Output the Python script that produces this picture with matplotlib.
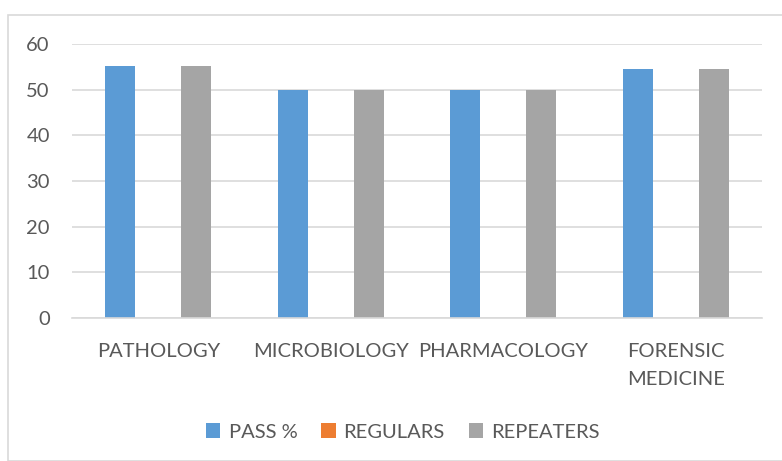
import matplotlib
matplotlib.use("Agg")
import matplotlib.pyplot as plt
import numpy as np
from matplotlib.patches import Rectangle

categories = ["PATHOLOGY", "MICROBIOLOGY", "PHARMACOLOGY", "FORENSIC\nMEDICINE"]
series_names = ["PASS %", "REGULARS", "REPEATERS"]
pass_pct = [55.2, 50, 50, 54.5]
regulars = [0, 0, 0, 0]
repeaters = [55.2, 50, 50, 54.5]
yticks = [0, 10, 20, 30, 40, 50, 60]
colors = ["#5B9BD5", "#ED7D31", "#A5A5A5"]

plt.rcParams['font.family'] = ['Lato', 'DejaVu Sans']
txt = "#595959"

fig = plt.figure(figsize=(7.82, 4.61), dpi=100)
# outer chart border
fig.patches.append(Rectangle((8/782, 0), 1.0, 1 - 15/461, transform=fig.transFigure,
                             fill=False, edgecolor="#D9D9D9", linewidth=1.2))
ax = fig.add_axes([72/782, 1 - 318/461, (762-72)/782, (318-44)/461])

x = np.arange(len(categories))
w = 30/172.5
step = 38/172.5
for i, (vals, c, name) in enumerate(zip([pass_pct, regulars, repeaters], colors, series_names)):
    ax.bar(x + (i-1)*step, vals, width=w, color=c, label=name, zorder=3)

ax.set_xlim(-0.5, len(categories) - 0.5)
ax.set_ylim(0, 60)
ax.set_yticks(yticks)
ax.set_xticks(x)
ax.set_xticklabels(categories, fontsize=14.5, color=txt, linespacing=1.8)
ax.tick_params(axis='y', labelsize=14.5, labelcolor=txt, length=0, pad=16)
ax.tick_params(axis='x', length=0, pad=18)
ax.grid(axis='y', color="#D9D9D9", linewidth=1.2, zorder=0)
for s in ["top", "right", "left"]:
    ax.spines[s].set_visible(False)
ax.spines["bottom"].set_color("#D9D9D9")
ax.spines["bottom"].set_linewidth(1.2)
ax.spines["bottom"].set_zorder(4)

leg = fig.legend(loc="center", bbox_to_anchor=(403/782, 1 - 432/461), ncol=3, frameon=False,
                 fontsize=14.5, handlelength=0.7, handleheight=0.7, handletextpad=0.4,
                 columnspacing=1.2)
for t in leg.get_texts():
    t.set_color(txt)

fig.savefig("out.png", dpi=100)
